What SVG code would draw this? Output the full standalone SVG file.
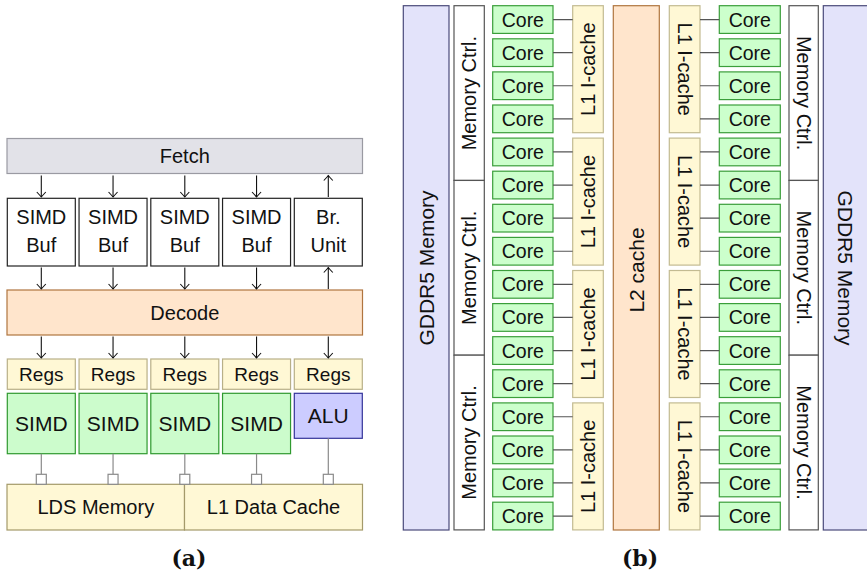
<svg xmlns="http://www.w3.org/2000/svg" width="867" height="579" viewBox="0 0 867 579">
  <style>
    text { font-family: "Liberation Sans", Arial, sans-serif; font-size: 20px; fill: #111; text-anchor: middle; }
    .core-t { font-size: 19.5px; }
    .regs-t { font-size: 19px; }
    .big { font-size: 21px; }
    .cap { font-family: "DejaVu Serif", "Liberation Serif", serif; font-weight: bold; font-size: 22px; }
    .fetch { fill: #e2e2e8; stroke: #9a9aa2; stroke-width: 1.2; }
    .buf { fill: #ffffff; stroke: #222; stroke-width: 1.2; }
    .decode { fill: #ffe5cc; stroke: #b0753f; stroke-width: 1.2; }
    .regs { fill: #fff8d5; stroke: #b8b088; stroke-width: 1.2; }
    .simd { fill: #ccfccc; stroke: #2f9a2f; stroke-width: 1.2; }
    .alu { fill: #ccccff; stroke: #33339a; stroke-width: 1.2; }
    .mem { fill: #fff8d5; stroke: #a49a6a; stroke-width: 1.2; }
    .port { fill: #ffffff; stroke: #8a8a8a; stroke-width: 1.2; }
    .core { fill: #ccffcc; stroke: #3a9e3a; stroke-width: 1.2; }
    .l1 { fill: #fff8d5; stroke: #c3bb92; stroke-width: 1.2; }
    .l2 { fill: #ffe5cc; stroke: #b0753f; stroke-width: 1.2; }
    .mc { fill: #ffffff; stroke: #555; stroke-width: 1.2; }
    .gddr { fill: #e3e3fa; stroke: #4a4a7a; stroke-width: 1.2; }
    .arrow { stroke: #111; stroke-width: 1.1; fill: none; marker-end: url(#tip); }
    .wire { stroke: #8a8a8a; stroke-width: 1.2; fill: none; }
    .link { stroke: #555; stroke-width: 1.2; fill: none; }
  </style>
  <defs>
    <marker id="tip" markerUnits="userSpaceOnUse" markerWidth="12" markerHeight="12" viewBox="-6 -6 12 12" refX="0" refY="0" orient="auto">
      <path d="M -5,-4.5 Q -1.3,-1.1 0,0 Q -1.3,1.1 -5,4.5" fill="none" stroke="#111" stroke-width="1.1"/>
    </marker>
  </defs>

  <!-- ===== (a) compute unit ===== -->
  <g id="fetch"><rect class="fetch" x="7" y="138.5" width="355.5" height="35"/><text x="184.8" y="163.2">Fetch</text></g>

  <g id="buf1"><rect class="buf" x="7.3" y="198.3" width="68" height="67.7"/><text x="41.3" y="224.3">SIMD</text><text x="41.3" y="252.3">Buf</text></g>
  <g id="buf2"><rect class="buf" x="79.05" y="198.3" width="68" height="67.7"/><text x="113.05" y="224.3">SIMD</text><text x="113.05" y="252.3">Buf</text></g>
  <g id="buf3"><rect class="buf" x="150.8" y="198.3" width="68" height="67.7"/><text x="184.8" y="224.3">SIMD</text><text x="184.8" y="252.3">Buf</text></g>
  <g id="buf4"><rect class="buf" x="222.55" y="198.3" width="68" height="67.7"/><text x="256.55" y="224.3">SIMD</text><text x="256.55" y="252.3">Buf</text></g>
  <g id="branch"><rect class="buf" x="294.3" y="198.3" width="68" height="67.7"/><text x="328.3" y="224.3">Br.</text><text x="328.3" y="252.3">Unit</text></g>

  <g id="decode"><rect class="decode" x="7" y="290" width="355.5" height="45"/><text x="184.8" y="319.6">Decode</text></g>

  <g id="regs1"><rect class="regs" x="7.3" y="359" width="68" height="30.3"/><text class="regs-t" x="41.3" y="380.8">Regs</text></g>
  <g id="regs2"><rect class="regs" x="79.05" y="359" width="68" height="30.3"/><text class="regs-t" x="113.05" y="380.8">Regs</text></g>
  <g id="regs3"><rect class="regs" x="150.8" y="359" width="68" height="30.3"/><text class="regs-t" x="184.8" y="380.8">Regs</text></g>
  <g id="regs4"><rect class="regs" x="222.55" y="359" width="68" height="30.3"/><text class="regs-t" x="256.55" y="380.8">Regs</text></g>
  <g id="regs5"><rect class="regs" x="294.3" y="359" width="68" height="30.3"/><text class="regs-t" x="328.3" y="380.8">Regs</text></g>

  <g id="simd1"><rect class="simd" x="7.3" y="393.3" width="68" height="60.4"/><text class="big" x="41.3" y="431">SIMD</text></g>
  <g id="simd2"><rect class="simd" x="79.05" y="393.3" width="68" height="60.4"/><text class="big" x="113.05" y="431">SIMD</text></g>
  <g id="simd3"><rect class="simd" x="150.8" y="393.3" width="68" height="60.4"/><text class="big" x="184.8" y="431">SIMD</text></g>
  <g id="simd4"><rect class="simd" x="222.55" y="393.3" width="68" height="60.4"/><text class="big" x="256.55" y="431">SIMD</text></g>
  <g id="alu"><rect class="alu" x="294.3" y="393.3" width="68" height="45"/><text class="big" x="328.3" y="423.2">ALU</text></g>

  <g id="lds"><rect class="mem" x="7" y="484.3" width="177.5" height="45.7"/><text x="95.8" y="514">LDS Memory</text></g>
  <g id="l1data"><rect class="mem" x="184.5" y="484.3" width="178" height="45.7"/><text x="273.5" y="514">L1 Data Cache</text></g>

  <g id="connectors-a">
    <!-- fetch to buffers, branch unit back to fetch -->
    <line class="arrow" x1="41.3" y1="175.5" x2="41.3" y2="197"/>
    <line class="arrow" x1="113.05" y1="175.5" x2="113.05" y2="197"/>
    <line class="arrow" x1="184.8" y1="175.5" x2="184.8" y2="197"/>
    <line class="arrow" x1="256.55" y1="175.5" x2="256.55" y2="197"/>
    <line class="arrow" x1="328.3" y1="197" x2="328.3" y2="175.5"/>
    <!-- buffers to decode, decode to branch unit -->
    <line class="arrow" x1="41.3" y1="267.5" x2="41.3" y2="289"/>
    <line class="arrow" x1="113.05" y1="267.5" x2="113.05" y2="289"/>
    <line class="arrow" x1="184.8" y1="267.5" x2="184.8" y2="289"/>
    <line class="arrow" x1="256.55" y1="267.5" x2="256.55" y2="289"/>
    <line class="arrow" x1="328.3" y1="289" x2="328.3" y2="267.5"/>
    <!-- decode to register files -->
    <line class="arrow" x1="41.3" y1="336.5" x2="41.3" y2="358"/>
    <line class="arrow" x1="113.05" y1="336.5" x2="113.05" y2="358"/>
    <line class="arrow" x1="184.8" y1="336.5" x2="184.8" y2="358"/>
    <line class="arrow" x1="256.55" y1="336.5" x2="256.55" y2="358"/>
    <line class="arrow" x1="328.3" y1="336.5" x2="328.3" y2="358"/>
    <!-- execution units to memory ports -->
    <line class="wire" x1="41.3" y1="453.7" x2="41.3" y2="474.3"/>
    <line class="wire" x1="113.05" y1="453.7" x2="113.05" y2="474.3"/>
    <line class="wire" x1="184.8" y1="453.7" x2="184.8" y2="474.3"/>
    <line class="wire" x1="256.55" y1="453.7" x2="256.55" y2="474.3"/>
    <line class="wire" x1="328.3" y1="438.3" x2="328.3" y2="474.3"/>
    <rect class="port" x="36.3" y="474.3" width="10" height="10"/>
    <rect class="port" x="108.05" y="474.3" width="10" height="10"/>
    <rect class="port" x="179.8" y="474.3" width="10" height="10"/>
    <rect class="port" x="251.55" y="474.3" width="10" height="10"/>
    <rect class="port" x="323.3" y="474.3" width="10" height="10"/>
  </g>

  <text class="cap" x="189" y="566">(a)</text>

  <!-- ===== (b) GPU chip ===== -->
  <g id="gddr-left"><rect class="gddr" x="403.3" y="5.7" width="45.7" height="524.3"/><text class="big" transform="translate(433.5,268) rotate(-90)">GDDR5 Memory</text></g>

  <g id="mc-left1"><rect class="mc" x="454" y="5.7" width="30.3" height="174.73"/><text transform="translate(476.4,93.1) rotate(-90)">Memory Ctrl.</text></g>
  <g id="mc-left2"><rect class="mc" x="454" y="180.43" width="30.3" height="174.73"/><text transform="translate(476.4,267.8) rotate(-90)">Memory Ctrl.</text></g>
  <g id="mc-left3"><rect class="mc" x="454" y="355.17" width="30.3" height="174.73"/><text transform="translate(476.4,442.5) rotate(-90)">Memory Ctrl.</text></g>

  <g id="core-l0"><rect class="core" x="492.7" y="5.7" width="60.3" height="27.7"/><text class="core-t" x="522.85" y="26.55">Core</text></g>
  <g id="core-l1"><rect class="core" x="492.7" y="38.8" width="60.3" height="27.7"/><text class="core-t" x="522.85" y="59.65">Core</text></g>
  <g id="core-l2"><rect class="core" x="492.7" y="71.9" width="60.3" height="27.7"/><text class="core-t" x="522.85" y="92.75">Core</text></g>
  <g id="core-l3"><rect class="core" x="492.7" y="105" width="60.3" height="27.7"/><text class="core-t" x="522.85" y="125.85">Core</text></g>
  <g id="core-l4"><rect class="core" x="492.7" y="138.1" width="60.3" height="27.7"/><text class="core-t" x="522.85" y="158.95">Core</text></g>
  <g id="core-l5"><rect class="core" x="492.7" y="171.2" width="60.3" height="27.7"/><text class="core-t" x="522.85" y="192.05">Core</text></g>
  <g id="core-l6"><rect class="core" x="492.7" y="204.3" width="60.3" height="27.7"/><text class="core-t" x="522.85" y="225.15">Core</text></g>
  <g id="core-l7"><rect class="core" x="492.7" y="237.4" width="60.3" height="27.7"/><text class="core-t" x="522.85" y="258.25">Core</text></g>
  <g id="core-l8"><rect class="core" x="492.7" y="270.5" width="60.3" height="27.7"/><text class="core-t" x="522.85" y="291.35">Core</text></g>
  <g id="core-l9"><rect class="core" x="492.7" y="303.6" width="60.3" height="27.7"/><text class="core-t" x="522.85" y="324.45">Core</text></g>
  <g id="core-l10"><rect class="core" x="492.7" y="336.7" width="60.3" height="27.7"/><text class="core-t" x="522.85" y="357.55">Core</text></g>
  <g id="core-l11"><rect class="core" x="492.7" y="369.8" width="60.3" height="27.7"/><text class="core-t" x="522.85" y="390.65">Core</text></g>
  <g id="core-l12"><rect class="core" x="492.7" y="402.9" width="60.3" height="27.7"/><text class="core-t" x="522.85" y="423.75">Core</text></g>
  <g id="core-l13"><rect class="core" x="492.7" y="436" width="60.3" height="27.7"/><text class="core-t" x="522.85" y="456.85">Core</text></g>
  <g id="core-l14"><rect class="core" x="492.7" y="469.1" width="60.3" height="27.7"/><text class="core-t" x="522.85" y="489.95">Core</text></g>
  <g id="core-l15"><rect class="core" x="492.7" y="502.2" width="60.3" height="27.7"/><text class="core-t" x="522.85" y="523.05">Core</text></g>

  <g id="icache-l0"><rect class="l1" x="572.7" y="5.7" width="30.6" height="127"/><text transform="translate(595.2,69.2) rotate(-90)">L1 I-cache</text></g>
  <g id="icache-l1"><rect class="l1" x="572.7" y="138.1" width="30.6" height="127"/><text transform="translate(595.2,201.6) rotate(-90)">L1 I-cache</text></g>
  <g id="icache-l2"><rect class="l1" x="572.7" y="270.5" width="30.6" height="127"/><text transform="translate(595.2,334) rotate(-90)">L1 I-cache</text></g>
  <g id="icache-l3"><rect class="l1" x="572.7" y="402.9" width="30.6" height="127"/><text transform="translate(595.2,466.4) rotate(-90)">L1 I-cache</text></g>

  <g id="l2"><rect class="l2" x="613.3" y="5.7" width="46" height="524.3"/><text class="big" transform="translate(643.8,270) rotate(-90)">L2 cache</text></g>

  <g id="icache-r0"><rect class="l1" x="669.3" y="5.7" width="30.7" height="127"/><text transform="translate(677.5,69.2) rotate(90)">L1 I-cache</text></g>
  <g id="icache-r1"><rect class="l1" x="669.3" y="138.1" width="30.7" height="127"/><text transform="translate(677.5,201.6) rotate(90)">L1 I-cache</text></g>
  <g id="icache-r2"><rect class="l1" x="669.3" y="270.5" width="30.7" height="127"/><text transform="translate(677.5,334) rotate(90)">L1 I-cache</text></g>
  <g id="icache-r3"><rect class="l1" x="669.3" y="402.9" width="30.7" height="127"/><text transform="translate(677.5,466.4) rotate(90)">L1 I-cache</text></g>

  <g id="core-r0"><rect class="core" x="719.3" y="5.7" width="61" height="27.7"/><text class="core-t" x="749.8" y="26.55">Core</text></g>
  <g id="core-r1"><rect class="core" x="719.3" y="38.8" width="61" height="27.7"/><text class="core-t" x="749.8" y="59.65">Core</text></g>
  <g id="core-r2"><rect class="core" x="719.3" y="71.9" width="61" height="27.7"/><text class="core-t" x="749.8" y="92.75">Core</text></g>
  <g id="core-r3"><rect class="core" x="719.3" y="105" width="61" height="27.7"/><text class="core-t" x="749.8" y="125.85">Core</text></g>
  <g id="core-r4"><rect class="core" x="719.3" y="138.1" width="61" height="27.7"/><text class="core-t" x="749.8" y="158.95">Core</text></g>
  <g id="core-r5"><rect class="core" x="719.3" y="171.2" width="61" height="27.7"/><text class="core-t" x="749.8" y="192.05">Core</text></g>
  <g id="core-r6"><rect class="core" x="719.3" y="204.3" width="61" height="27.7"/><text class="core-t" x="749.8" y="225.15">Core</text></g>
  <g id="core-r7"><rect class="core" x="719.3" y="237.4" width="61" height="27.7"/><text class="core-t" x="749.8" y="258.25">Core</text></g>
  <g id="core-r8"><rect class="core" x="719.3" y="270.5" width="61" height="27.7"/><text class="core-t" x="749.8" y="291.35">Core</text></g>
  <g id="core-r9"><rect class="core" x="719.3" y="303.6" width="61" height="27.7"/><text class="core-t" x="749.8" y="324.45">Core</text></g>
  <g id="core-r10"><rect class="core" x="719.3" y="336.7" width="61" height="27.7"/><text class="core-t" x="749.8" y="357.55">Core</text></g>
  <g id="core-r11"><rect class="core" x="719.3" y="369.8" width="61" height="27.7"/><text class="core-t" x="749.8" y="390.65">Core</text></g>
  <g id="core-r12"><rect class="core" x="719.3" y="402.9" width="61" height="27.7"/><text class="core-t" x="749.8" y="423.75">Core</text></g>
  <g id="core-r13"><rect class="core" x="719.3" y="436" width="61" height="27.7"/><text class="core-t" x="749.8" y="456.85">Core</text></g>
  <g id="core-r14"><rect class="core" x="719.3" y="469.1" width="61" height="27.7"/><text class="core-t" x="749.8" y="489.95">Core</text></g>
  <g id="core-r15"><rect class="core" x="719.3" y="502.2" width="61" height="27.7"/><text class="core-t" x="749.8" y="523.05">Core</text></g>

  <g id="mc-right1"><rect class="mc" x="789" y="5.7" width="29.3" height="174.73"/><text transform="translate(796.6,93.1) rotate(90)">Memory Ctrl.</text></g>
  <g id="mc-right2"><rect class="mc" x="789" y="180.43" width="29.3" height="174.73"/><text transform="translate(796.6,267.8) rotate(90)">Memory Ctrl.</text></g>
  <g id="mc-right3"><rect class="mc" x="789" y="355.17" width="29.3" height="174.73"/><text transform="translate(796.6,442.5) rotate(90)">Memory Ctrl.</text></g>

  <g id="gddr-right"><rect class="gddr" x="823.3" y="5.7" width="45.7" height="524.3"/><text class="big" transform="translate(837.5,268) rotate(90)">GDDR5 Memory</text></g>

  <g id="connectors-b">
    <!-- cores to their instruction caches -->
    <path class="link" d="M553,19.55H572.7 M553,52.65H572.7 M553,85.75H572.7 M553,118.85H572.7 M553,151.95H572.7 M553,185.05H572.7 M553,218.15H572.7 M553,251.25H572.7 M553,284.35H572.7 M553,317.45H572.7 M553,350.55H572.7 M553,383.65H572.7 M553,416.75H572.7 M553,449.85H572.7 M553,482.95H572.7 M553,516.05H572.7"/>
    <path class="link" d="M700,19.55H719.3 M700,52.65H719.3 M700,85.75H719.3 M700,118.85H719.3 M700,151.95H719.3 M700,185.05H719.3 M700,218.15H719.3 M700,251.25H719.3 M700,284.35H719.3 M700,317.45H719.3 M700,350.55H719.3 M700,383.65H719.3 M700,416.75H719.3 M700,449.85H719.3 M700,482.95H719.3 M700,516.05H719.3"/>
  </g>

  <text class="cap" x="640" y="566">(b)</text>
</svg>
